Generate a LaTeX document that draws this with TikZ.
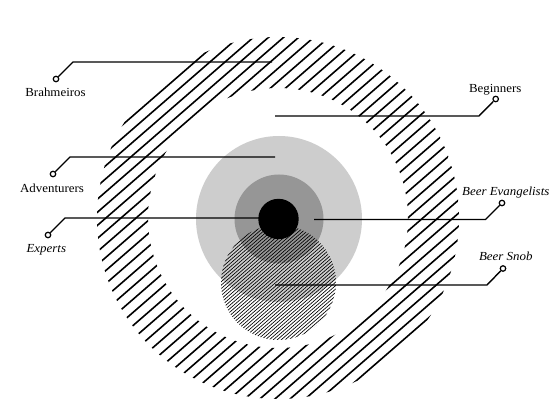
\documentclass[tikz,border=0pt]{standalone}
\usepackage{fontspec}
\setmainfont{Liberation Serif}[FakeStretch=1.05]
\definecolor{lightgr}{RGB}{205,205,205}
\definecolor{darkgr}{RGB}{150,150,150}
\begin{document}
\begin{tikzpicture}[x=1pt,y=-1pt,
  leader/.style={line width=1.4pt},
  marker/.style={circle,draw,line width=1.2pt,fill=white,inner sep=0pt,minimum size=5.5pt},
  lab/.style={font=\fontsize{12.3}{14}\selectfont, anchor=base, inner sep=0pt},
  itlab/.style={lab, font=\fontsize{12.3}{14}\selectfont\itshape},
  hatchline/.style={line width=1.6pt},
  finehatch/.style={line width=0.65pt}]
\useasboundingbox (0,0) rectangle (550,412);
\coordinate (C) at (278,218);
% big hatched ring
\begin{scope}[even odd rule]
  \clip (C) circle[radius=181] (C) circle[radius=130];
  \foreach \k in {0,...,35}{
    \pgfmathsetmacro\px{278+(-172.3+9.9*\k)*0.6561-151}
    \pgfmathsetmacro\py{218+(-172.3+9.9*\k)*0.7547+131.2}
    \draw[hatchline] (\px,\py) -- ++(302,-262.4);
  }
\end{scope}
% grey discs
\fill[lightgr] (279,219) circle[radius=83];
\fill[darkgr] (279,219) circle[radius=44.5];
\fill[black] (278.5,219) circle[radius=20.2];
% fine hatched disc
\begin{scope}
  \clip (278.5,282.5) circle[radius=57.5];
  \foreach \k in {0,...,45}{
    \pgfmathsetmacro\px{278.5+(-59+2.6*\k)*0.6561-45.3}
    \pgfmathsetmacro\py{282.5+(-59+2.6*\k)*0.7547+39.4}
    \draw[finehatch] (\px,\py) -- ++(90.6,-78.8);
  }
\end{scope}
% leaders
\node[marker] (mB) at (56,79) {};
\coordinate (bB) at (73,62);
\coordinate (eB) at (272,62);
\draw[leader] (mB) -- (bB) -- (eB);
\node[lab] (tB) at (55.5,96.7) {Brahmeiros};

\node[marker] (mA) at (53,174) {};
\coordinate (bA) at (70,157);
\coordinate (eA) at (275,157);
\draw[leader] (mA) -- (bA) -- (eA);
\node[lab] (tA) at (52,192.7) {Adventurers};

\node[marker] (mE) at (48,235) {};
\coordinate (bE) at (65,218);
\coordinate (eE) at (270,218);
\draw[leader] (mE) -- (bE) -- (eE);
\node[itlab] (tE) at (46.3,252.5) {Experts};

\node[marker] (mG) at (495.7,99) {};
\coordinate (bG) at (479,116);
\coordinate (eG) at (275,116);
\draw[leader] (mG) -- (bG) -- (eG);
\node[lab] (tG) at (495.2,93) {Beginners};

\node[marker] (mV) at (502,203) {};
\coordinate (bV) at (485.5,219.5);
\coordinate (eV) at (314,219.5);
\draw[leader] (mV) -- (bV) -- (eV);
\node[itlab] (tV) at (505.8,195.7) {Beer Evangelists};

\node[marker] (mS) at (503,268.5) {};
\coordinate (bS) at (487,285);
\coordinate (eS) at (275,285);
\draw[leader] (mS) -- (bS) -- (eS);
\node[itlab] (tS) at (505.8,261) {Beer Snob};
\end{tikzpicture}
\end{document}
